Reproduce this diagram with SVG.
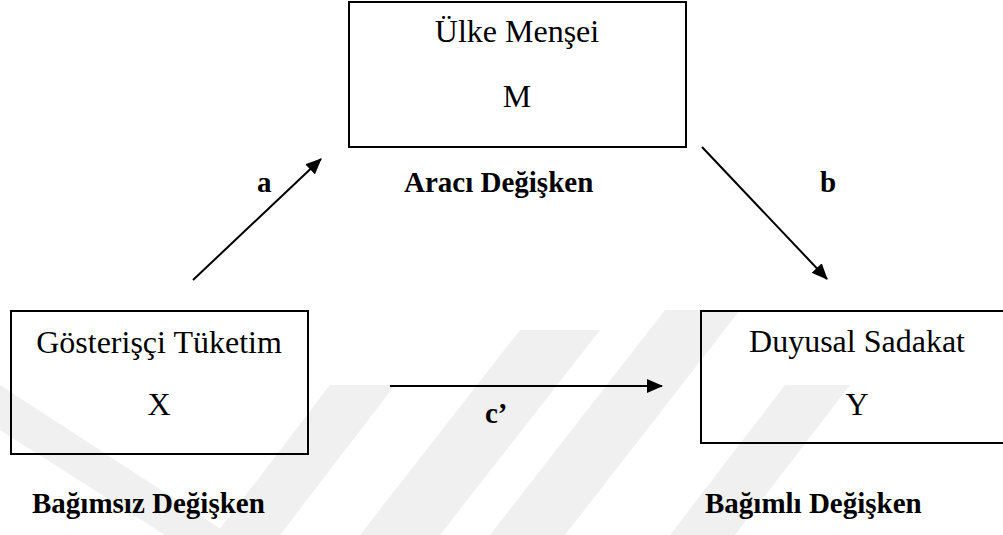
<svg xmlns="http://www.w3.org/2000/svg" width="1003" height="535" viewBox="0 0 1003 535">
  <style>
    .box { fill: none; stroke: #000; stroke-width: 2; }
    .reg { font-family: "Liberation Serif", "Times New Roman", serif; font-size: 32px; fill: #000; text-anchor: middle; }
    .bold { font-family: "Liberation Serif", "Times New Roman", serif; font-size: 29px; font-weight: bold; fill: #000; }
    .conn { stroke: #000; stroke-width: 2; fill: none; marker-end: url(#arrow); }
    .wm { fill: #f0f0f0; }
  </style>
  <defs>
    <marker id="arrow" viewBox="0 0 16 14" refX="15" refY="7" markerWidth="16" markerHeight="14" markerUnits="userSpaceOnUse" orient="auto">
      <path d="M0,0 L16,7 L0,14 Z" fill="#000"/>
    </marker>
  </defs>
  <rect width="1003" height="535" fill="#fff"/>
  <g id="watermark">
    <polygon class="wm" points="0,385 0,430 165,535 230,535"/>
    <polygon class="wm" points="215,535 280,535 395,385 330,385"/>
    <polygon class="wm" points="360,535 440,535 600,330 520,330"/>
    <polygon class="wm" points="490,535 565,535 740,310 665,310"/>
    <polygon class="wm" points="670,535 735,535 850,385 785,385"/>
  </g>
  <g id="connectors">
    <line class="conn" x1="193" y1="280" x2="321" y2="159"/>
    <line class="conn" x1="702" y1="147" x2="827" y2="279"/>
    <line class="conn" x1="390" y1="386" x2="662" y2="386"/>
    <text class="bold" x="257" y="192">a</text>
    <text class="bold" x="820" y="192">b</text>
    <text class="bold" x="485" y="423">c’</text>
  </g>
  <g id="node-m">
    <rect class="box" x="349" y="2" width="337" height="145"/>
    <text class="reg" x="517" y="42">Ülke Menşei</text>
    <text class="reg" x="517" y="107">M</text>
    <text class="bold" x="404" y="192">Aracı Değişken</text>
  </g>
  <g id="node-x">
    <rect class="box" x="11" y="311" width="297" height="143"/>
    <text class="reg" x="159" y="353">Gösterişçi Tüketim</text>
    <text class="reg" x="159" y="415">X</text>
    <text class="bold" x="32" y="513">Bağımsız Değişken</text>
  </g>
  <g id="node-y">
    <rect class="box" x="701" y="311" width="310" height="132"/>
    <text class="reg" x="857" y="352">Duyusal Sadakat</text>
    <text class="reg" x="857" y="415">Y</text>
    <text class="bold" x="705" y="513">Bağımlı Değişken</text>
  </g>
</svg>
